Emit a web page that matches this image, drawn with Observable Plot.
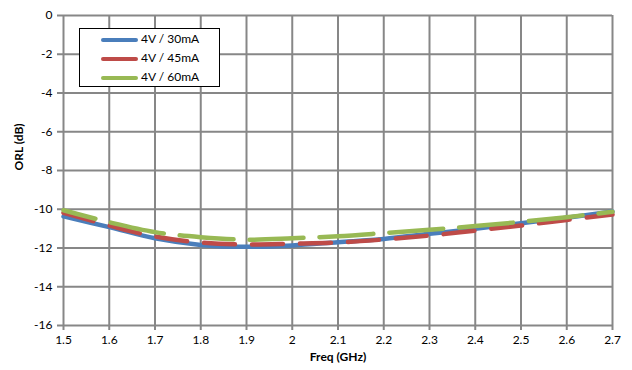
<!DOCTYPE html>
<html>
<head>
<meta charset="utf-8">
<script src="https://cdn.jsdelivr.net/npm/d3@7"></script>
<script src="https://cdn.jsdelivr.net/npm/@observablehq/plot@0.6"></script>
<style>
  body { margin: 0; background: #fff; }
  #wrap { position: relative; width: 632px; height: 370px; font-family: Lato, "Open Sans", sans-serif; }
  #legend { position: absolute; left: 79px; top: 28px; width: 139px; height: 57px; border: 1.5px solid #000; background: #fff; font-size: 12px; }
  .row { position: absolute; left: 0; height: 14px; }
  .row .sw { position: absolute; left: 21px; top: 5px; width: 37px; height: 4px; border-radius: 2px; }
  .row .lb { position: absolute; left: 61px; top: -2px; white-space: nowrap; }
</style>
</head>
<body>
<div id="wrap"></div>
<script>
const freq = [1.5, 1.6, 1.7, 1.8, 1.9, 2.0, 2.1, 2.2, 2.3, 2.4, 2.5, 2.6, 2.7];
const orl30 = [-10.37, -10.92, -11.50, -11.84, -11.94, -11.87, -11.70, -11.53, -11.27, -11.01, -10.72, -10.44, -10.12];
const orl45 = [-10.18, -10.84, -11.41, -11.72, -11.82, -11.78, -11.72, -11.56, -11.36, -11.10, -10.84, -10.55, -10.27];
const orl60 = [-10.05, -10.67, -11.18, -11.44, -11.57, -11.50, -11.39, -11.23, -11.06, -10.87, -10.65, -10.41, -10.13];
const seriesNames = ["4V / 30mA", "4V / 45mA", "4V / 60mA"];
const seriesColors = ["#4A7EBB", "#BE4B48", "#98B954"];
const xTicks = [1.5, 1.6, 1.7, 1.8, 1.9, 2.0, 2.1, 2.2, 2.3, 2.4, 2.5, 2.6, 2.7];
const yTicks = [0, -2, -4, -6, -8, -10, -12, -14, -16];
const xLabel = "Freq (GHz)";
const yLabel = "ORL (dB)";

const rows = [];
[orl30, orl45, orl60].forEach((vals, i) => {
  vals.forEach((v, j) => rows.push({ series: seriesNames[i], f: freq[j], v }));
});
const bySeries = name => rows.filter(r => r.series === name);

const gridColor = "#878787";
const chart = Plot.plot({
  width: 632,
  height: 370,
  marginLeft: 63,
  marginRight: 20,
  marginTop: 15,
  marginBottom: 45,
  style: { fontFamily: "Lato, 'Open Sans', sans-serif", fontSize: "12px", background: "#fff" },
  x: { domain: [1.5, 2.7] },
  y: { domain: [-16, 0] },
  marks: [
    Plot.gridX(xTicks, { stroke: gridColor, strokeOpacity: 1, strokeWidth: 2 }),
    Plot.gridY(yTicks, { stroke: gridColor, strokeOpacity: 1, strokeWidth: 2 }),
    Plot.axisX(xTicks, { tickSize: 5, tickPadding: 5, stroke: gridColor, strokeWidth: 2, fill: "#000", fontSize: 12, label: null, tickFormat: d => String(+d.toFixed(1)) }),
    Plot.axisY(yTicks, { tickSize: 6, tickPadding: 5, stroke: gridColor, strokeWidth: 2, fill: "#000", fontSize: 12, label: null, tickFormat: d => String(d) }),
    Plot.line(bySeries(seriesNames[0]), { x: "f", y: "v", stroke: seriesColors[0], strokeWidth: 4.5, curve: "catmull-rom", strokeLinecap: "round" }),
    Plot.line(bySeries(seriesNames[1]), { x: "f", y: "v", stroke: seriesColors[1], strokeWidth: 4.5, curve: "catmull-rom", strokeLinecap: "round", strokeDasharray: "31,17" }),
    Plot.line(bySeries(seriesNames[2]), { x: "f", y: "v", stroke: seriesColors[2], strokeWidth: 4.5, curve: "catmull-rom", strokeLinecap: "round", strokeDasharray: "54,16", strokeDashoffset: 21 }),
    Plot.text([yLabel], { text: d => d, frameAnchor: "left", dx: -44, rotate: -90, fontWeight: "bold", fontSize: 12 }),
    Plot.text([xLabel], { text: d => d, frameAnchor: "bottom", dy: 35, fontWeight: "bold", fontSize: 12 })
  ]
});

const wrap = document.getElementById("wrap");
wrap.appendChild(chart);
const legend = document.createElement("div");
legend.id = "legend";
seriesNames.forEach((name, i) => {
  const row = document.createElement("div");
  row.className = "row";
  row.style.top = (4 + i * 19) + "px";
  row.style.width = "100%";
  const sw = document.createElement("div");
  sw.className = "sw";
  sw.style.background = seriesColors[i];
  const lb = document.createElement("div");
  lb.className = "lb";
  lb.textContent = name;
  row.appendChild(sw);
  row.appendChild(lb);
  legend.appendChild(row);
});
wrap.appendChild(legend);
</script>
</body>
</html>
